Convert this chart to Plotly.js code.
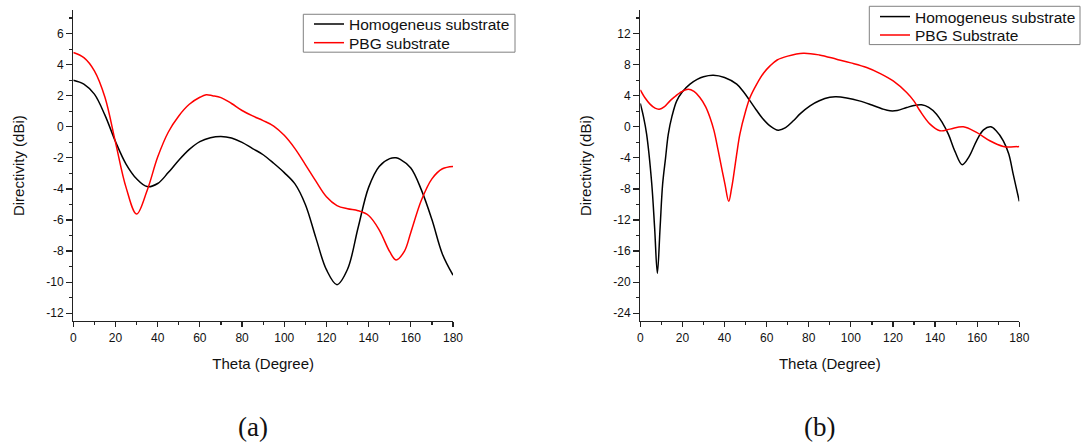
<!DOCTYPE html>
<html>
<head>
<meta charset="utf-8">
<script src="https://cdn.plot.ly/plotly-3.0.1.min.js"></script>
<style>
  html, body { margin: 0; padding: 0; background: #fff; }
  #chart { width: 1081px; height: 443px; }
</style>
</head>
<body>
<div id="chart"></div>
<script>
// Panel (a): directivity vs. theta
const thetaA_homog = [0, 5, 10, 15, 20, 25, 30, 35, 40, 45, 50, 55, 60, 65, 70, 75, 80, 85, 90, 95, 100, 105, 110, 115, 120, 125, 130, 135, 140, 145, 150, 153, 155, 160, 165, 170, 175, 180];
const dirA_homog = [3.0, 2.75, 2.1, 0.75, -0.95, -2.4, -3.35, -3.85, -3.65, -2.95, -2.15, -1.45, -0.95, -0.7, -0.62, -0.72, -1.0, -1.4, -1.8, -2.35, -2.95, -3.66, -5.0, -7.15, -9.2, -10.16, -9.17, -6.5, -3.9, -2.55, -2.05, -2.0, -2.1, -2.65, -4.06, -5.97, -8.2, -9.55];

const thetaA_pbg = [0, 5, 10, 15, 20, 25, 30, 35, 40, 45, 50, 55, 60, 63, 66, 70, 75, 80, 85, 90, 95, 100, 105, 110, 115, 120, 125, 130, 135, 140, 145, 150, 153, 157, 160, 165, 170, 175, 180];
const dirA_pbg = [4.78, 4.45, 3.6, 1.9, -1.0, -3.9, -5.62, -4.1, -1.95, -0.35, 0.7, 1.45, 1.9, 2.06, 2.0, 1.88, 1.5, 1.05, 0.7, 0.4, 0.05, -0.55, -1.39, -2.43, -3.5, -4.5, -5.07, -5.28, -5.4, -5.71, -6.63, -8.04, -8.57, -8.0, -6.8, -4.73, -3.35, -2.7, -2.55];

// Panel (b): directivity vs. theta
const thetaB_homog = [0, 1.5, 3, 5.4, 6.8, 8.1, 9.4, 10.6, 12, 13.3, 15, 17.3, 20, 23.6, 27, 30, 34.7, 40, 45.8, 49, 52.1, 55, 58, 61.6, 65.5, 69, 72.7, 76, 80.6, 85, 90, 93, 98, 104, 110, 115, 118.6, 122, 126.5, 130, 133.6, 137, 140.7, 143.5, 146.3, 149.5, 152.9, 156, 159.7, 163, 166.4, 169, 172.4, 175, 177.1, 180];
const dirB_homog = [3.0, 1.3, -0.94, -7.2, -13.0, -18.85, -13.0, -7.4, -4.0, -0.94, 1.3, 3.34, 4.5, 5.49, 6.1, 6.45, 6.64, 6.35, 5.49, 4.5, 3.34, 2.2, 1.1, 0.13, -0.43, -0.1, 0.77, 1.7, 2.7, 3.35, 3.8, 3.86, 3.7, 3.34, 2.8, 2.3, 2.06, 2.1, 2.48, 2.75, 2.83, 2.5, 1.63, 0.5, -0.94, -3.2, -4.88, -3.9, -1.8, -0.4, 0, -0.5, -1.8, -3.5, -6.1, -9.6];

const thetaB_pbg = [0, 2.3, 4.6, 7, 9, 11.5, 14.1, 16.5, 18.9, 22.8, 25.5, 28.3, 31, 33.1, 35, 37, 39, 40.2, 42, 43.3, 44.2, 45.8, 47.3, 50, 52.1, 55.3, 58.5, 61.6, 65, 70, 77.4, 85, 93.2, 100, 107.5, 114, 120.1, 126.5, 130, 132.8, 137.6, 142.3, 147.1, 153.4, 159.7, 166, 172.4, 176, 180];
const dirB_pbg = [4.75, 3.7, 2.92, 2.4, 2.27, 2.6, 3.34, 3.9, 4.41, 4.84, 4.55, 3.77, 2.6, 1.2, -0.5, -3.08, -5.8, -7.37, -9.6, -8.0, -6.5, -3.5, -0.94, 2.0, 3.77, 5.5, 6.9, 7.84, 8.6, 9.1, 9.47, 9.25, 8.7, 8.23, 7.63, 6.85, 5.9, 4.41, 3.3, 2.06, 0.34, -0.51, -0.3, 0, -0.73, -1.8, -2.53, -2.6, -2.53];

// Tick values (labels use a plain hyphen for negatives)
const xTicks = [0, 20, 40, 60, 80, 100, 120, 140, 160, 180];
const yTicksA = [-12, -10, -8, -6, -4, -2, 0, 2, 4, 6];
const yTicksB = [-24, -20, -16, -12, -8, -4, 0, 4, 8, 12];

// Legend labels and captions
const namesA = ['Homogeneus substrate', 'PBG substrate'];
const namesB = ['Homogeneus substrate', 'PBG Substrate'];
const captions = ['(a)', '(b)'];

const BLACK = '#000000';
const RED = '#ff0000';
const W = 1081, H = 443;

function curve(x, y, name, color, xa, ya, legend) {
  return {
    x: x, y: y, name: name, type: 'scatter', mode: 'lines',
    line: { color: color, width: 1.5, shape: 'spline', smoothing: 1 },
    xaxis: xa, yaxis: ya, legend: legend, hoverinfo: 'x+y'
  };
}

const data = [
  curve(thetaA_homog, dirA_homog, namesA[0], BLACK, 'x', 'y', 'legend'),
  curve(thetaA_pbg, dirA_pbg, namesA[1], RED, 'x', 'y', 'legend2'),
  curve(thetaB_homog, dirB_homog, namesB[0], BLACK, 'x2', 'y2', 'legend3'),
  curve(thetaB_pbg, dirB_pbg, namesB[1], RED, 'x2', 'y2', 'legend4')
];

const tickFont = { family: 'Liberation Sans, Arial, sans-serif', size: 12, color: '#111' };
const titleFont = { family: 'Liberation Sans, Arial, sans-serif', size: 15, color: '#111' };
const AX = '#222';

function xAxis(domain, anchor) {
  return {
    domain: domain, anchor: anchor, range: [0, 180],
    tickmode: 'array', tickvals: xTicks, ticktext: xTicks.map(String),
    showline: true, linecolor: AX, linewidth: 1.3, mirror: false,
    showgrid: false, zeroline: false,
    ticks: 'outside', ticklen: 5, tickwidth: 1.2, tickcolor: AX,
    minor: { tickmode: 'linear', tick0: 0, dtick: 10, ticks: 'outside', ticklen: 3, tickwidth: 1.2, tickcolor: AX, showgrid: false },
    tickfont: tickFont,
    title: { text: 'Theta (Degree)', font: titleFont, standoff: 14 }
  };
}

function yAxis(domain, anchor, range, vals, minor) {
  return {
    domain: domain, anchor: anchor, range: range,
    tickmode: 'array', tickvals: vals, ticktext: vals.map(String),
    showline: true, linecolor: AX, linewidth: 1.3, mirror: false,
    showgrid: false, zeroline: false,
    ticks: 'outside', ticklen: 6, tickwidth: 1.2, tickcolor: AX,
    minor: { tickmode: 'linear', tick0: 0, dtick: minor, ticks: 'outside', ticklen: 3, tickwidth: 1.2, tickcolor: AX, showgrid: false },
    tickfont: tickFont,
    title: { text: 'Directivity (dBi)', font: titleFont, standoff: 18 }
  };
}

const yDom = [(H - 320.7) / H, (H - 9.3) / H];
const legendFont = { family: 'Liberation Sans, Arial, sans-serif', size: 15.5, color: '#111' };

// one-entry legends, stacked inside a shared framed box
function entry(left, rowCenter) {
  return {
    x: left / W, y: 1 - (rowCenter - 16.6) / H, xanchor: 'left', yanchor: 'top',
    bgcolor: 'rgba(0,0,0,0)', borderwidth: 0, font: legendFont, itemwidth: 30
  };
}

function frame(x0, x1, y0, y1) {
  return {
    type: 'rect', xref: 'paper', yref: 'paper',
    x0: x0 / W, x1: x1 / W, y0: 1 - y1 / H, y1: 1 - y0 / H,
    line: { color: '#808080', width: 1 }, fillcolor: 'rgba(0,0,0,0)', layer: 'above'
  };
}

const captionFont = { family: 'Liberation Serif, Times New Roman, serif', size: 27, color: '#111' };

const layout = {
  width: W, height: H,
  margin: { l: 0, r: 0, t: 0, b: 0 },
  paper_bgcolor: '#ffffff', plot_bgcolor: '#ffffff',
  showlegend: true,
  xaxis: xAxis([73.3 / W, 453 / W], 'y'),
  yaxis: yAxis(yDom, 'x', [-12.5, 7.5], yTicksA, 1),
  xaxis2: xAxis([640.3 / W, 1019.3 / W], 'y2'),
  yaxis2: yAxis(yDom, 'x2', [-25, 15], yTicksB, 2),
  legend: entry(309, 24),
  legend2: entry(309, 42.7),
  legend3: entry(875, 16),
  legend4: entry(875, 35),
  shapes: [
    frame(303.3, 515, 13.3, 51.3),
    frame(869.3, 1080, 5.3, 43.7)
  ],
  annotations: [
    { text: captions[0], x: 253 / W, y: 1 - 427 / H, xref: 'paper', yref: 'paper',
      xanchor: 'center', yanchor: 'middle', showarrow: false, font: captionFont },
    { text: captions[1], x: 819 / W, y: 1 - 427 / H, xref: 'paper', yref: 'paper',
      xanchor: 'center', yanchor: 'middle', showarrow: false, font: captionFont }
  ]
};

Plotly.newPlot('chart', data, layout, { displayModeBar: false, staticPlot: true });
</script>
</body>
</html>
